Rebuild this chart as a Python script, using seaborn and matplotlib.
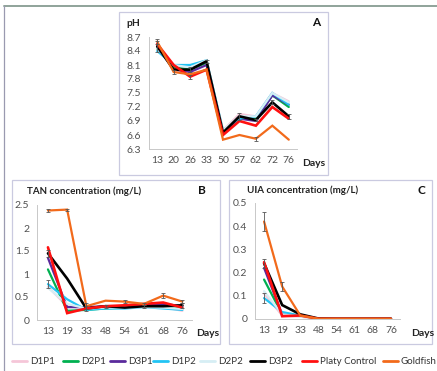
import numpy as np
import pandas as pd
import matplotlib
matplotlib.use("Agg")
import matplotlib.pyplot as plt
from matplotlib.patches import Rectangle
from matplotlib.lines import Line2D
import seaborn as sns

sns.set_theme(style="white")
plt.rcParams["font.family"] = ["Lato", "DejaVu Sans"]

series = ["D1P1", "D2P1", "D3P1", "D1P2", "D2P2", "D3P2", "Platy Control", "Goldfish"]
colors = ["#F5C6D8", "#00B050", "#5A2A9C", "#22C4F4", "#D6EEF4", "#000000", "#FF1010", "#F26A1B"]
widths = [1.6, 1.6, 1.6, 1.6, 1.6, 1.9, 1.9, 1.6]

# pH
ph_days = ["13", "20", "26", "33", "50", "57", "62", "72", "76"]
ph_vals = {
    "D1P1":          [8.45, 8.05, 8.05, 8.15, 6.70, 7.05, 7.00, 7.50, 7.32],
    "D2P1":          [8.45, 8.05, 8.00, 8.15, 6.65, 6.95, 6.95, 7.45, 7.20],
    "D3P1":          [8.50, 8.00, 7.95, 8.10, 6.65, 6.95, 6.90, 7.45, 7.25],
    "D1P2":          [8.40, 8.10, 8.10, 8.20, 6.70, 6.95, 7.00, 7.50, 7.25],
    "D2P2":          [8.45, 8.10, 8.05, 8.20, 6.70, 7.00, 7.00, 7.50, 7.30],
    "D3P2":          [8.50, 8.00, 8.00, 8.18, 6.65, 7.00, 6.92, 7.30, 7.00],
    "Platy Control": [8.55, 8.10, 7.85, 8.00, 6.60, 6.90, 6.80, 7.20, 6.95],
    "Goldfish":      [8.60, 7.95, 7.90, 8.00, 6.50, 6.60, 6.52, 6.80, 6.50],
}
ph_err = {
    "D3P2":          [0.12, 0.00, 0.05, 0.03, 0.00, 0.07, 0.03, 0.04, 0.05],
    "Platy Control": [0.00, 0.00, 0.04, 0.00, 0.00, 0.00, 0.00, 0.00, 0.00],
    "Goldfish":      [0.06, 0.05, 0.00, 0.00, 0.00, 0.00, 0.04, 0.00, 0.00],
}

# TAN concentration
tan_days = ["13", "19", "33", "48", "54", "61", "68", "76"]
tan_vals = {
    "D1P1":          [0.72, 0.30, 0.25, 0.28, 0.27, 0.30, 0.28, 0.20],
    "D2P1":          [1.10, 0.20, 0.22, 0.25, 0.27, 0.30, 0.28, 0.25],
    "D3P1":          [1.35, 0.28, 0.28, 0.30, 0.30, 0.33, 0.35, 0.30],
    "D1P2":          [0.78, 0.45, 0.22, 0.25, 0.25, 0.28, 0.25, 0.22],
    "D2P2":          [0.70, 0.35, 0.25, 0.27, 0.27, 0.28, 0.27, 0.24],
    "D3P2":          [1.45, 0.90, 0.25, 0.30, 0.27, 0.30, 0.30, 0.32],
    "Platy Control": [1.58, 0.15, 0.25, 0.30, 0.32, 0.35, 0.38, 0.27],
    "Goldfish":      [2.38, 2.40, 0.30, 0.42, 0.40, 0.35, 0.53, 0.40],
}
tan_err = {
    "D3P2":          [0.08, 0.00, 0.05, 0.03, 0.00, 0.03, 0.00, 0.06],
    "D1P2":          [0.08, 0.00, 0.00, 0.00, 0.00, 0.00, 0.00, 0.00],
    "Goldfish":      [0.03, 0.02, 0.06, 0.00, 0.03, 0.03, 0.06, 0.04],
}

# UIA concentration
uia_vals = {
    "D1P1":          [0.110, 0.015, 0.010, 0.001, 0.001, 0.001, 0.001, 0.001],
    "D2P1":          [0.170, 0.020, 0.015, 0.001, 0.001, 0.001, 0.001, 0.001],
    "D3P1":          [0.220, 0.020, 0.015, 0.001, 0.001, 0.001, 0.001, 0.001],
    "D1P2":          [0.090, 0.030, 0.015, 0.001, 0.001, 0.001, 0.001, 0.001],
    "D2P2":          [0.120, 0.020, 0.010, 0.001, 0.001, 0.001, 0.001, 0.001],
    "D3P2":          [0.240, 0.060, 0.020, 0.002, 0.001, 0.001, 0.001, 0.001],
    "Platy Control": [0.245, 0.012, 0.015, 0.001, 0.001, 0.001, 0.001, 0.001],
    "Goldfish":      [0.420, 0.140, 0.015, 0.001, 0.001, 0.001, 0.001, 0.001],
}
uia_err = {
    "D3P2":          [0.02, 0.00, 0.00, 0.00, 0.00, 0.00, 0.00, 0.00],
    "D1P2":          [0.02, 0.00, 0.00, 0.00, 0.00, 0.00, 0.00, 0.00],
    "Goldfish":      [0.04, 0.02, 0.00, 0.00, 0.00, 0.00, 0.00, 0.00],
}

W, H = 437, 371
fig = plt.figure(figsize=(W / 100, H / 100), dpi=100)


def px_rect(x0, y0, x1, y1):
    return [x0 / W, 1 - y1 / H, (x1 - x0) / W, (y1 - y0) / H]


# outer frame lines and panel boxes
fig.add_artist(Line2D([4 / W, 1], [1 - 6 / H, 1 - 6 / H], color="#8FA39A", lw=1.4))
fig.add_artist(Line2D([4 / W, 4 / W], [0, 1 - 6 / H], color="#9A9AB0", lw=0.9))
for (x0, y0, x1, y1) in [(119, 12, 328, 175), (12, 180, 220, 344), (229, 180, 432, 344)]:
    fig.add_artist(Rectangle((x0 / W, 1 - y1 / H), (x1 - x0) / W, (y1 - y0) / H,
                             transform=fig.transFigure, fill=False,
                             edgecolor="#CACAE0", lw=0.9))

tick_color = "#505050"


def draw_panel(rect, days, vals, errs, ylim, yticks, ytick_labels, xlim):
    ax = fig.add_axes(rect)
    rows = []
    for s in series:
        for i, v in enumerate(vals[s]):
            rows.append({"pos": i, "value": v, "series": s})
    df = pd.DataFrame(rows)
    for s, c, lw in zip(series, colors, widths):
        sub = df[df["series"] == s]
        sns.lineplot(data=sub, x="pos", y="value", ax=ax, color=c, lw=lw,
                     legend=False, solid_joinstyle="miter")
        if s in errs:
            e = np.array(errs[s])
            m = e > 0
            ax.errorbar(sub["pos"].to_numpy()[m], sub["value"].to_numpy()[m],
                        yerr=e[m], fmt="none", ecolor="#555555",
                        elinewidth=0.6, capsize=1.6, capthick=0.6, zorder=5)
    ax.set_xlim(*xlim)
    ax.set_ylim(*ylim)
    ax.set_xticks(range(len(days)))
    ax.set_xticklabels(days)
    ax.set_yticks(yticks)
    ax.set_yticklabels(ytick_labels)
    ax.set_xlabel("")
    ax.set_ylabel("")
    for sp in ["top", "right"]:
        ax.spines[sp].set_visible(False)
    for sp in ["left", "bottom"]:
        ax.spines[sp].set_color("#C8C8C8")
        ax.spines[sp].set_linewidth(0.7)
    ax.tick_params(axis="both", labelsize=7.5, colors="#C8C8C8", labelcolor=tick_color,
                   length=2.5, width=0.6, pad=3)
    ax.tick_params(axis="x", length=0, pad=5)
    # minor ticks between categories on the x axis
    ax.set_xticks(np.arange(-0.5, len(days), 1), minor=True)
    ax.tick_params(axis="x", which="minor", length=2.5, width=0.6, colors="#C8C8C8")
    ax.set_facecolor("none")
    return ax


ax_a = draw_panel(px_rect(149, 37, 297, 149), ph_days, ph_vals, ph_err,
                  (6.3, 8.7), [6.3, 6.6, 6.9, 7.2, 7.5, 7.8, 8.1, 8.4, 8.7],
                  ["6.3", "6.6", "6.9", "7.2", "7.5", "7.8", "8.1", "8.4", "8.7"],
                  (-0.23, 8.41))
ax_b = draw_panel(px_rect(37, 205, 192, 320), tan_days, tan_vals, tan_err,
                  (0, 2.5), [0, 0.5, 1, 1.5, 2, 2.5],
                  ["0", "0.5", "1", "1.5", "2", "2.5"],
                  (-0.57, 7.46))
ax_c = draw_panel(px_rect(255, 203, 400, 319), tan_days, uia_vals, uia_err,
                  (0, 0.5), [0, 0.1, 0.2, 0.3, 0.4, 0.5],
                  ["0", "0.1", "0.2", "0.3", "0.4", "0.5"],
                  (-0.47, 7.16))


def ftext(x, y, s, **kw):
    fig.text(x / W, 1 - y / H, s, va="center", **kw)


ftext(126, 23, "pH", fontsize=7.5, fontweight="bold", color="#222222")
ftext(312, 22, "A", fontsize=8.5, fontweight="bold", color="#111111")
ftext(302, 163, "Days", fontsize=7.5, fontweight="bold", color="#222222")
ftext(27, 191, "TAN concentration (mg/L)", fontsize=7, fontweight="bold", color="#222222")
ftext(198, 191, "B", fontsize=8.5, fontweight="bold", color="#111111")
ftext(196, 334, "Days", fontsize=7.5, fontweight="bold", color="#222222")
ftext(247, 190, "UIA concentration (mg/L)", fontsize=7, fontweight="bold", color="#222222")
ftext(418, 191, "C", fontsize=8.5, fontweight="bold", color="#111111")
ftext(411, 334, "Days", fontsize=7.5, fontweight="bold", color="#222222")

# one legend entry per series, each anchored at its own left edge
legend_x = [12, 63, 110, 153, 200, 250, 302, 383]
for name, c, x in zip(series, colors, legend_x):
    h = Line2D([0], [0], color=c, lw=2)
    fig.legend([h], [name], loc="center left", bbox_to_anchor=(x / W, 1 - 362 / H),
               fontsize=7, frameon=False, handlelength=1.5, handletextpad=0.35,
               borderpad=0, borderaxespad=0, labelcolor="#333333")

fig.savefig("out.png", dpi=100)
